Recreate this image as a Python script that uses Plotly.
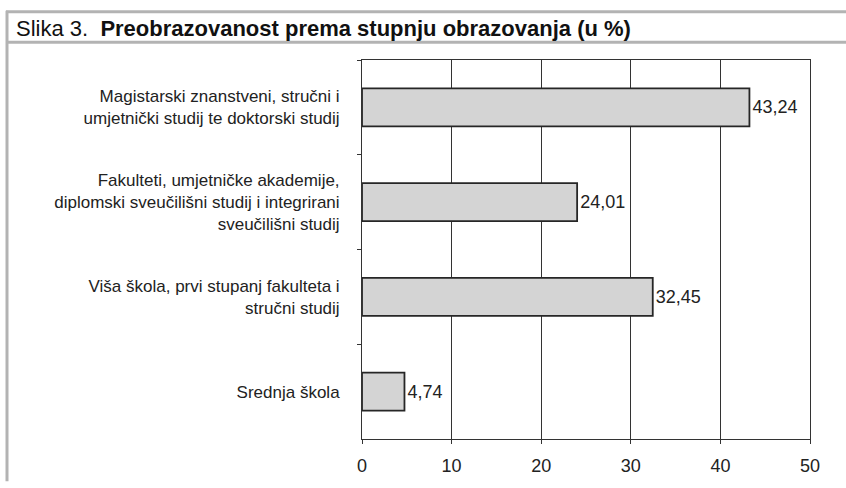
import plotly.graph_objects as go

categories = [
    "Magistarski znanstveni, stručni i<br>umjetnički studij te doktorski studij",
    "Fakulteti, umjetničke akademije,<br>diplomski sveučilišni studij i integrirani<br>sveučilišni studij",
    "Viša škola, prvi stupanj fakulteta i<br>stručni studij",
    "Srednja škola",
]
values = [43.24, 24.01, 32.45, 4.74]
value_labels = ["43,24", "24,01", "32,45", "4,74"]
x_ticks = [0, 10, 20, 30, 40, 50]

FONT = "Liberation Sans, Arial, sans-serif"
W, H = 846, 488
L, R, T, B = 362, 810, 60, 445

def px(x):
    return (x - L) / (R - L)

def py(y):
    return (B - y) / (B - T)

fig = go.Figure(
    go.Bar(
        x=values,
        y=categories,
        orientation="h",
        text=value_labels,
        textposition="outside",
        textfont=dict(family=FONT, size=18, color="#222"),
        marker=dict(color="#d4d4d4", line=dict(color="#262626", width=1.8)),
        cliponaxis=False,
    )
)

frame = "#b3b3b3"
shapes = [
    dict(type="line", xref="paper", yref="paper", x0=px(6), x1=px(846), y0=py(11), y1=py(11),
         line=dict(color=frame, width=3)),
    dict(type="line", xref="paper", yref="paper", x0=px(6), x1=px(846), y0=py(42), y1=py(42),
         line=dict(color=frame, width=3)),
    dict(type="line", xref="paper", yref="paper", x0=px(7), x1=px(7), y0=py(10), y1=py(488),
         line=dict(color=frame, width=3)),
]

fig.update_layout(
    width=W,
    height=H,
    margin=dict(l=L, r=W - R, t=T, b=H - B, pad=0),
    paper_bgcolor="white",
    plot_bgcolor="white",
    bargap=0.6,
    showlegend=False,
    font=dict(family=FONT, size=17, color="#222"),
    shapes=shapes,
    annotations=[
        dict(
            text="Slika 3.  <b>Preobrazovanost prema stupnju obrazovanja (u %)</b>",
            xref="paper", yref="paper", x=px(14), y=py(28),
            xanchor="left", yanchor="middle", showarrow=False,
            font=dict(family=FONT, size=22, color="#111"),
        )
    ],
    xaxis=dict(
        range=[0, 50],
        tickvals=x_ticks,
        ticktext=[str(v) for v in x_ticks],
        showgrid=True,
        gridcolor="#333",
        gridwidth=1,
        showline=True,
        linecolor="#333",
        linewidth=1,
        mirror=True,
        ticks="outside",
        ticklen=4,
        tickcolor="#333",
        zeroline=False,
        ticklabelstandoff=6,
        tickfont=dict(family=FONT, size=18, color="#222"),
        fixedrange=True,
    ),
    yaxis=dict(
        autorange="reversed",
        showline=True,
        linecolor="#333",
        linewidth=1,
        mirror=True,
        ticks="outside",
        tickson="boundaries",
        ticklen=4,
        tickcolor="#333",
        showgrid=False,
        ticklabelstandoff=18,
        tickfont=dict(family=FONT, size=17, color="#222"),
        fixedrange=True,
    ),
)

fig.write_html(
    "out.html",
    config={"displayModeBar": False},
    post_script="document.body.style.margin='0';document.body.style.overflow='hidden';",
)
